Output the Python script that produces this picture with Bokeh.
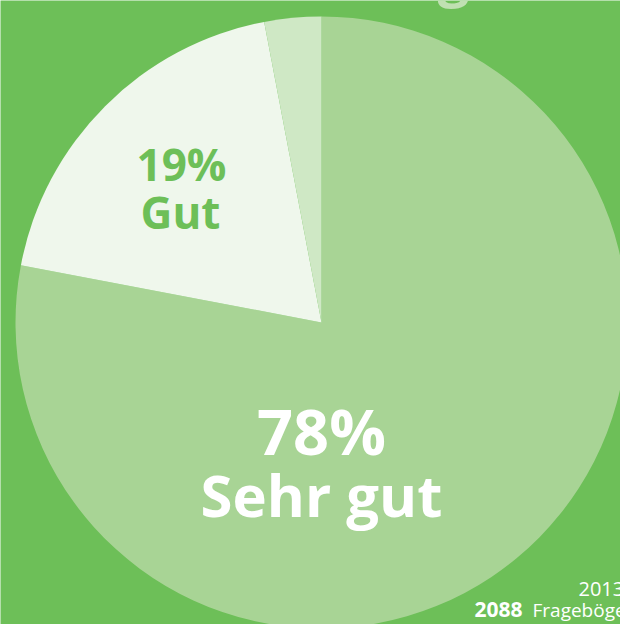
import math
from bokeh.plotting import figure
from bokeh.models import Range1d, ColumnDataSource
from bokeh.core.properties import value
from bokeh.embed import file_html
from bokeh.resources import INLINE

# Data
categories = ["Sehr gut", "Gut", "Andere"]
percent = [78, 19, 3]
slice_colors = ["#a8d495", "#eff7ec", "#cfe8c5"]
year_label = "2013"
count_label = "2088"
count_word = "Fragebögen"

W, H = 620, 624
BG = "#6dbf58"

p = figure(width=W, height=H, output_backend="svg", toolbar_location=None,
           x_range=Range1d(0, W), y_range=Range1d(0, H),
           min_border=0, min_border_left=0, min_border_right=0,
           min_border_top=0, min_border_bottom=0)
p.axis.visible = False
p.grid.visible = False
p.outline_line_color = None
p.background_fill_color = BG
p.border_fill_color = BG

cx, cy, r = 321, 302, 306
total = sum(percent)
starts, ends = [], []
acc = 0.0
for v in percent:
    a0 = math.pi / 2 - 2 * math.pi * acc / total
    acc += v
    a1 = math.pi / 2 - 2 * math.pi * acc / total
    starts.append(a0)
    ends.append(a1)

src = ColumnDataSource(dict(x=[cx] * 3, y=[cy] * 3, start=starts, end=ends,
                            color=slice_colors, cat=categories))
p.wedge(x="x", y="y", radius=r, start_angle="start", end_angle="end",
        direction="clock", fill_color="color", line_color=None, source=src)

font = value("Open Sans")
# Big label
p.text(x=[321], y=[194], text=[f"{percent[0]}%"], text_font=font, text_font_style="bold",
       text_font_size="63px", text_color="white", text_align="center", text_baseline="alphabetic")
p.text(x=[321], y=[130], text=[categories[0]], text_font=font, text_font_style="bold",
       text_font_size="58px", text_color="white", text_align="center", text_baseline="alphabetic")
# Gut label
p.text(x=[181], y=[461], text=[f"{percent[1]}%"], text_font=font, text_font_style="bold",
       text_font_size="44px", text_color=BG, text_align="center", text_baseline="alphabetic")
p.text(x=[180], y=[413], text=[categories[1]], text_font=font, text_font_style="bold",
       text_font_size="44px", text_color=BG, text_align="center", text_baseline="alphabetic")

# partially visible title descender
p.text(x=[453], y=[H + 27], text=["g"], text_font=font, text_font_style="bold",
       text_font_size="56px", text_color="#c0e0b2", text_align="center", text_baseline="alphabetic")

# Footer
p.text(x=[578], y=[36], text=[year_label], text_font=font,
       text_font_size="20px", text_color="white", text_align="left", text_baseline="alphabetic")
p.text(x=[474], y=[15], text=[count_label], text_font=font, text_font_style="bold",
       text_font_size="21px", text_color="white", text_align="left", text_baseline="alphabetic")
p.text(x=[532], y=[15], text=[count_word], text_font=font,
       text_font_size="19px", text_color="white", text_align="left", text_baseline="alphabetic")

open("out.html", "w").write(file_html(p, INLINE))
